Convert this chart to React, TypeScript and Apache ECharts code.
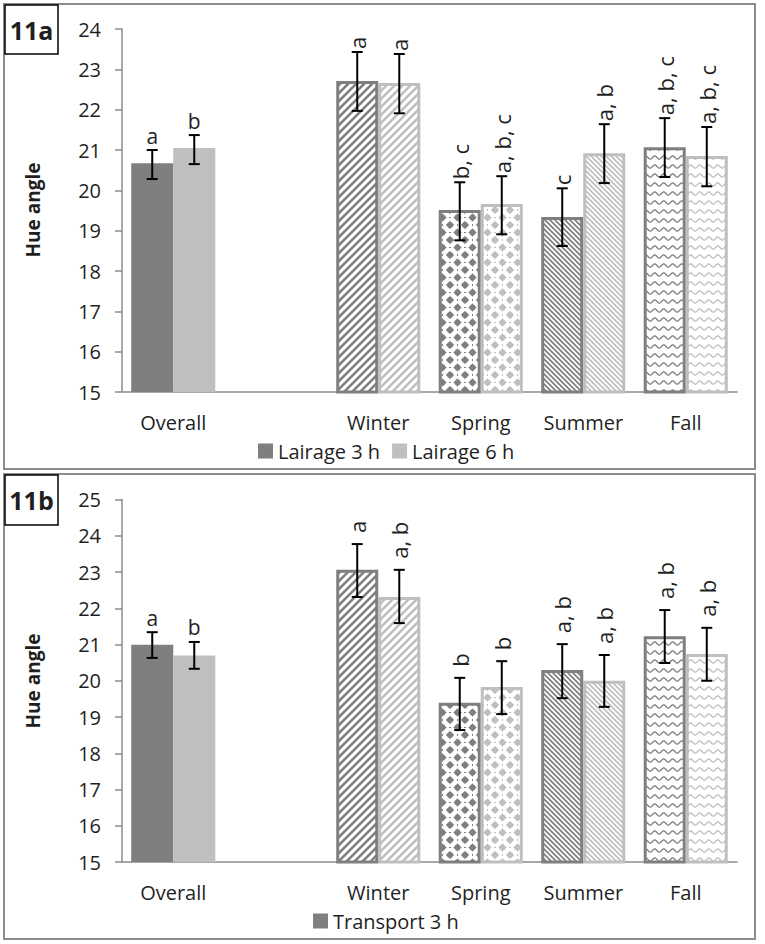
import React, { useEffect, useRef } from 'react';
import * as echarts from 'echarts';

const categories = ['Overall', '', 'Winter', 'Spring', 'Summer', 'Fall'];
const yTicksTop = { min: 15, max: 24, interval: 1 };
const yTicksBottom = { min: 15, max: 25, interval: 1 };

// 11a – Lairage
const lairage3 = [20.67, null, 22.71, 19.51, 19.34, 21.07];
const lairage3Lo = [20.28, null, 21.97, 18.76, 18.62, 20.33];
const lairage3Hi = [21.0, null, 23.43, 20.2, 20.05, 21.79];
const lairage3Letters = ['a', '', 'a', 'b, c', 'c', 'a, b, c'];
const lairage6 = [21.05, null, 22.66, 19.66, 20.92, 20.85];
const lairage6Lo = [20.65, null, 21.91, 18.91, 20.18, 20.1];
const lairage6Hi = [21.37, null, 23.38, 20.35, 21.64, 21.57];
const lairage6Letters = ['b', '', 'a', 'a, b, c', 'a, b', 'a, b, c'];

// 11b – Transport
const transport3 = [20.99, null, 23.06, 19.39, 20.3, 21.23];
const transport3Lo = [20.63, null, 22.31, 18.64, 19.52, 20.49];
const transport3Hi = [21.34, null, 23.77, 20.08, 21.01, 21.95];
const transport3Letters = ['a', '', 'a', 'b', 'a, b', 'a, b'];
const transport6 = [20.7, null, 22.31, 19.83, 20.0, 20.74];
const transport6Lo = [20.33, null, 21.59, 19.08, 19.28, 20.0];
const transport6Hi = [21.07, null, 23.06, 20.54, 20.71, 21.46];
const transport6Letters = ['b', '', 'a, b', 'b', 'a, b', 'a, b'];

const FONT = '"Open Sans", "Liberation Sans", sans-serif';
const DARK = '#7f7f7f';
const LIGHT = '#bfbfbf';
const TEXT = '#1f1f1f';
const CAT_GAP = 0.18;

function makeCanvas(w: number, h: number, draw: (ctx: CanvasRenderingContext2D) => void) {
  const c = document.createElement('canvas');
  c.width = w;
  c.height = h;
  const ctx = c.getContext('2d') as CanvasRenderingContext2D;
  ctx.fillStyle = '#ffffff';
  ctx.fillRect(0, 0, w, h);
  draw(ctx);
  return c;
}

function makePatterns(color: string) {
  const winter = makeCanvas(8, 8, (ctx) => {
    ctx.strokeStyle = color;
    ctx.lineWidth = 2.6;
    ctx.beginPath();
    ctx.moveTo(-2, 10); ctx.lineTo(10, -2);
    ctx.moveTo(-2, 2); ctx.lineTo(2, -2);
    ctx.moveTo(6, 10); ctx.lineTo(10, 6);
    ctx.stroke();
  });
  const spring = makeCanvas(15, 15, (ctx) => {
    ctx.fillStyle = color;
    const pts = [[7.5, 7.5], [0, 0], [15, 0], [0, 15], [15, 15]];
    const r = 4.3;
    pts.forEach(([cx, cy]) => {
      ctx.beginPath();
      ctx.moveTo(cx, cy - r);
      ctx.quadraticCurveTo(cx + 1.6, cy - 1.6, cx + r, cy);
      ctx.quadraticCurveTo(cx + 1.6, cy + 1.6, cx, cy + r);
      ctx.quadraticCurveTo(cx - 1.6, cy + 1.6, cx - r, cy);
      ctx.quadraticCurveTo(cx - 1.6, cy - 1.6, cx, cy - r);
      ctx.closePath();
      ctx.fill();
      ctx.beginPath();
      ctx.arc(cx, cy, 2.9, 0, Math.PI * 2);
      ctx.fill();
    });
    // faint dots between diamonds
    ctx.fillRect(7, 0, 1, 1);
    ctx.fillRect(0, 7, 1, 1);
    ctx.fillRect(14, 7, 1, 1);
    ctx.fillRect(7, 14, 1, 1);
  });
  const summer = makeCanvas(5, 5, (ctx) => {
    ctx.strokeStyle = color;
    ctx.lineWidth = 1.7;
    ctx.beginPath();
    ctx.moveTo(-1, -1); ctx.lineTo(6, 6);
    ctx.moveTo(4, -1); ctx.lineTo(6, 1);
    ctx.moveTo(-1, 4); ctx.lineTo(1, 6);
    ctx.stroke();
  });
  const fall = makeCanvas(9, 9, (ctx) => {
    ctx.strokeStyle = color;
    ctx.lineWidth = 1.3;
    ctx.beginPath();
    for (let x = -1; x <= 10; x += 0.5) {
      const y = 4.5 + 1.6 * Math.sin((2 * Math.PI * x) / 9);
      if (x === -1) ctx.moveTo(x, y);
      else ctx.lineTo(x, y);
    }
    ctx.stroke();
  });
  return [null, null, winter, spring, summer, fall];
}

function buildBars(values: (number | null)[], pats: any[], color: string) {
  return values.map((v, i) => {
    if (v == null) return null;
    if (!pats[i]) return { value: v, itemStyle: { color } };
    return {
      value: v,
      itemStyle: {
        color: { image: pats[i], repeat: 'repeat' },
        borderColor: color,
        borderWidth: 3,
      },
    };
  });
}

function errorSeries(
  lo: (number | null)[],
  hi: (number | null)[],
  letters: string[],
  side: number,
  axisIndex: number,
  gap: number
) {
  const data = lo
    .map((l, i) => (l == null ? null : [i, l, hi[i]]))
    .filter((d) => d != null);
  return {
    type: 'custom',
    xAxisIndex: axisIndex,
    yAxisIndex: axisIndex,
    z: 5,
    silent: true,
    data,
    renderItem: (params: any, api: any) => {
      const ci = api.value(0);
      const l = api.value(1);
      const h = api.value(2);
      const band = api.size([1, 0])[0];
      const barW = (band * (1 - CAT_GAP)) / 2;
      const pLo = api.coord([ci, l]);
      const pHi = api.coord([ci, h]);
      const x = pLo[0] + (side * barW) / 2;
      const yL = pLo[1];
      const yH = pHi[1];
      const cap = 5.5;
      const style = { stroke: '#000', lineWidth: 2 };
      const children: any[] = [
        { type: 'line', shape: { x1: x, y1: yL, x2: x, y2: yH }, style },
        { type: 'line', shape: { x1: x - cap, y1: yL, x2: x + cap, y2: yL }, style },
        { type: 'line', shape: { x1: x - cap, y1: yH, x2: x + cap, y2: yH }, style },
      ];
      const text = letters[ci];
      if (text) {
        if (ci === 0) {
          children.push({
            type: 'text',
            x,
            y: yH - 4,
            style: { text, fill: TEXT, font: `21px ${FONT}`, align: 'center', verticalAlign: 'bottom' },
          });
        } else {
          children.push({
            type: 'text',
            x,
            y: yH - gap,
            rotation: Math.PI / 2,
            style: { text, fill: TEXT, font: `22px ${FONT}`, align: 'left', verticalAlign: 'middle' },
          });
        }
      }
      return { type: 'group', children };
    },
  };
}

function xAxisCfg(gridIndex: number) {
  return {
    type: 'category',
    gridIndex,
    data: categories,
    axisLine: { lineStyle: { color: '#8c8c8c', width: 1.5 } },
    axisTick: { length: 7, lineStyle: { color: '#8c8c8c', width: 1.5 } },
    axisLabel: { fontSize: 20, fontFamily: FONT, color: TEXT, margin: 20, interval: 0 },
  };
}

function yAxisCfg(gridIndex: number, ticks: { min: number; max: number; interval: number }) {
  return {
    type: 'value',
    gridIndex,
    min: ticks.min,
    max: ticks.max,
    interval: ticks.interval,
    axisLine: { show: true, lineStyle: { color: '#8c8c8c', width: 1.5 } },
    axisTick: { show: true, length: 7, lineStyle: { color: '#8c8c8c', width: 1.5 } },
    splitLine: { show: false },
    axisLabel: { fontSize: 20, fontFamily: FONT, color: TEXT, margin: 21 },
  };
}

export default function App() {
  const ref = useRef<HTMLDivElement>(null);

  useEffect(() => {
    document.body.style.margin = '0';
    if (!ref.current) return;
    const chart = echarts.init(ref.current, undefined, { renderer: 'svg' });
    const darkPats = makePatterns(DARK);
    const lightPats = makePatterns(LIGHT);

    const barCommon = { type: 'bar', barGap: '0%', barCategoryGap: '18%', silent: true };

    const option: any = {
      animation: false,
      backgroundColor: '#ffffff',
      grid: [
        { left: 122, right: 28, top: 29, height: 363 },
        { left: 122, right: 28, top: 499.5, height: 362.5 },
      ],
      xAxis: [xAxisCfg(0), xAxisCfg(1)],
      yAxis: [yAxisCfg(0, yTicksTop), yAxisCfg(1, yTicksBottom)],
      legend: [
        {
          data: ['Lairage 3 h', 'Lairage 6 h'],
          left: 258,
          top: 441,
          icon: 'rect',
          itemWidth: 15,
          itemHeight: 15,
          itemGap: 12,
          padding: 0,
          selectedMode: false,
          textStyle: { fontSize: 20, fontFamily: FONT, color: TEXT },
        },
        {
          data: ['Transport 3 h'],
          left: 313,
          top: 911,
          icon: 'rect',
          itemWidth: 15,
          itemHeight: 15,
          padding: 0,
          selectedMode: false,
          textStyle: { fontSize: 20, fontFamily: FONT, color: TEXT },
        },
      ],
      graphic: [
        { type: 'rect', silent: true, shape: { x: 4, y: 4, width: 751, height: 465 }, style: { fill: 'none', stroke: '#8c8c8c', lineWidth: 2 } },
        { type: 'rect', silent: true, shape: { x: 4, y: 474, width: 751, height: 465 }, style: { fill: 'none', stroke: '#8c8c8c', lineWidth: 2 } },
        { type: 'rect', silent: true, shape: { x: 5, y: 5, width: 53, height: 49 }, style: { fill: '#fff', stroke: '#000', lineWidth: 1.5 } },
        { type: 'text', silent: true, x: 31.5, y: 30, style: { text: '11a', font: `bold 25px ${FONT}`, fill: TEXT, align: 'center', verticalAlign: 'middle' } },
        { type: 'rect', silent: true, shape: { x: 5, y: 475, width: 53, height: 50 }, style: { fill: '#fff', stroke: '#000', lineWidth: 1.5 } },
        { type: 'text', silent: true, x: 31.5, y: 500, style: { text: '11b', font: `bold 25px ${FONT}`, fill: TEXT, align: 'center', verticalAlign: 'middle' } },
        { type: 'text', silent: true, x: 33, y: 210, rotation: Math.PI / 2, style: { text: 'Hue angle', font: `bold 19px ${FONT}`, fill: TEXT, align: 'center', verticalAlign: 'middle' } },
        { type: 'text', silent: true, x: 33, y: 681, rotation: Math.PI / 2, style: { text: 'Hue angle', font: `bold 19px ${FONT}`, fill: TEXT, align: 'center', verticalAlign: 'middle' } },
      ],
      series: [
        { ...barCommon, name: 'Lairage 3 h', xAxisIndex: 0, yAxisIndex: 0, itemStyle: { color: DARK }, data: buildBars(lairage3, darkPats, DARK) },
        { ...barCommon, name: 'Lairage 6 h', xAxisIndex: 0, yAxisIndex: 0, itemStyle: { color: LIGHT }, data: buildBars(lairage6, lightPats, LIGHT) },
        { ...barCommon, name: 'Transport 3 h', xAxisIndex: 1, yAxisIndex: 1, itemStyle: { color: DARK }, data: buildBars(transport3, darkPats, DARK) },
        { ...barCommon, name: 'Transport 6 h', xAxisIndex: 1, yAxisIndex: 1, itemStyle: { color: LIGHT }, data: buildBars(transport6, lightPats, LIGHT) },
        errorSeries(lairage3Lo, lairage3Hi, lairage3Letters, -1, 0, 3),
        errorSeries(lairage6Lo, lairage6Hi, lairage6Letters, 1, 0, 3),
        errorSeries(transport3Lo, transport3Hi, transport3Letters, -1, 1, 11),
        errorSeries(transport6Lo, transport6Hi, transport6Letters, 1, 1, 11),
      ],
    };
    chart.setOption(option);
    return () => chart.dispose();
  }, []);

  return <div ref={ref} style={{ width: 765, height: 944 }} />;
}
